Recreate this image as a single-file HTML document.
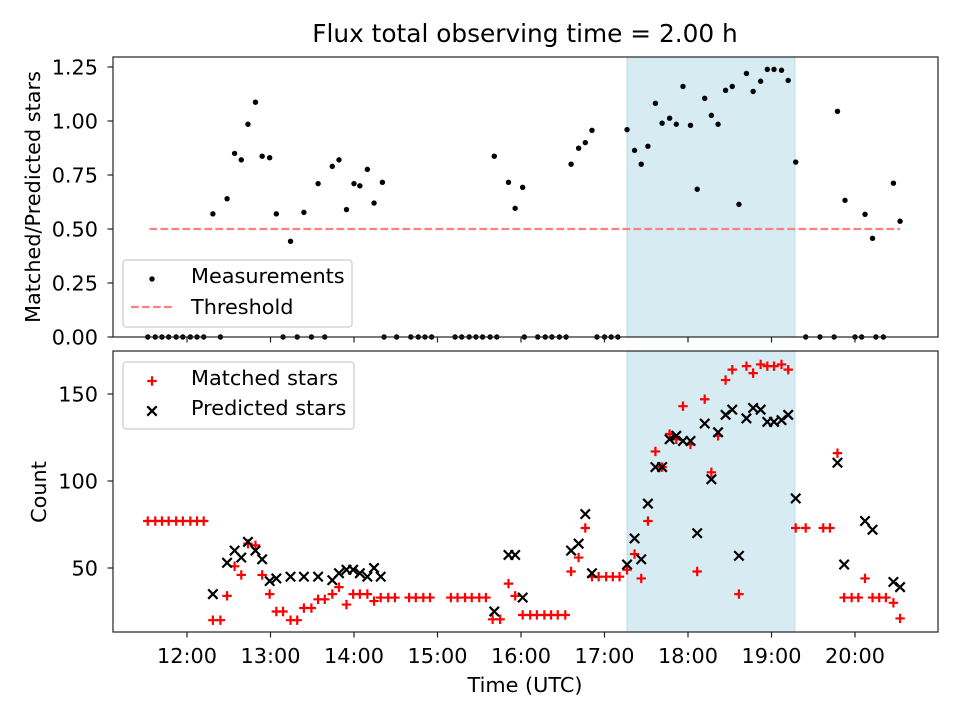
<!DOCTYPE html>
<html><head><meta charset="utf-8"><style>
body{margin:0;background:#fff}
svg{display:block;font-family:"DejaVu Sans","Liberation Sans",sans-serif}
</style></head><body>
<svg id="chart" width="960" height="720" viewBox="0 0 960 720" xmlns="http://www.w3.org/2000/svg">
<text x="525" y="42" font-size="24.8" text-anchor="middle">Flux total observing time = 2.00 h</text>
<g id="topPanel"></g><g id="botPanel"></g>
</svg>
<script>
// ratio measurements (hours UTC, value)
const ratioTimes=[12.31,12.48,12.57,12.65,12.73,12.82,12.90,12.99,13.07,13.24,13.40,13.57,13.74,13.82,13.91,14.0,14.07,14.16,14.24,14.34,15.68,15.85,15.93,16.02,16.60,16.69,16.77,16.85,17.27,17.36,17.44,17.52,17.61,17.69,17.78,17.86,17.94,18.03,18.11,18.20,18.28,18.36,18.45,18.53,18.61,18.70,18.78,18.87,18.95,19.03,19.12,19.20,19.29,19.79,19.88,20.12,20.21,20.46,20.54];
const ratioValues=[0.57,0.64,0.85,0.82,0.985,1.087,0.837,0.83,0.57,0.443,0.577,0.71,0.79,0.82,0.59,0.71,0.70,0.776,0.62,0.716,0.837,0.716,0.596,0.693,0.80,0.874,0.90,0.957,0.96,0.864,0.80,0.883,1.082,0.99,1.013,0.985,1.16,0.98,0.684,1.105,1.026,0.985,1.142,1.16,0.614,1.22,1.137,1.184,1.239,1.239,1.235,1.188,0.81,1.045,0.633,0.568,0.457,0.712,0.536];
const zeroTimes=[11.53,11.62,11.70,11.78,11.87,11.95,12.04,12.12,12.20,12.40,13.15,13.32,13.49,13.65,14.36,14.51,14.68,14.77,14.85,14.93,15.21,15.29,15.38,15.46,15.54,15.63,15.71,16.04,16.20,16.29,16.37,16.46,16.54,16.91,17.00,17.08,17.16,19.41,19.58,19.75,20.0,20.08,20.25,20.34];
const threshold=0.5, thresholdStart=11.55, thresholdEnd=20.54;
const spanStart=17.27, spanEnd=19.28;
// matched stars
const matchedTimes=[11.53,11.62,11.70,11.78,11.87,11.95,12.04,12.12,12.20,12.31,12.40,12.48,12.57,12.65,12.73,12.82,12.90,12.99,13.07,13.15,13.24,13.32,13.40,13.49,13.57,13.65,13.74,13.82,13.91,13.99,14.07,14.16,14.24,14.32,14.41,14.49,14.66,14.74,14.83,14.91,15.16,15.24,15.33,15.41,15.50,15.58,15.66,15.75,15.85,15.93,16.02,16.11,16.19,16.28,16.36,16.44,16.53,16.60,16.69,16.77,16.85,16.93,17.02,17.10,17.18,17.27,17.36,17.44,17.52,17.61,17.69,17.78,17.86,17.94,18.03,18.11,18.20,18.28,18.36,18.45,18.53,18.61,18.70,18.78,18.87,18.95,19.03,19.12,19.20,19.29,19.41,19.62,19.70,19.79,19.87,19.96,20.04,20.12,20.21,20.29,20.37,20.46,20.54];
const matchedValues=[77,77,77,77,77,77,77,77,77,20,20,34,51,46,64,63,46,35,25,25,20,20,27,27,32,32,35,39,29,35,35,35,31,33,33,33,33,33,33,33,33,33,33,33,33,33,20.5,20.5,41,34,23,23,23,23,23,23,23,48,56,73,45,45,45,45,45,49,58,44,77,117,108,127,124,143,121,48,147,105,126,158,164,35,166,162,167,166,166,167,164,73,73,73,73,116,33,33,33,44,33,33,33,30,21];
// predicted stars
const predTimes=[12.31,12.48,12.57,12.65,12.73,12.82,12.90,12.99,13.07,13.24,13.40,13.57,13.74,13.82,13.91,13.99,14.07,14.16,14.24,14.32,15.68,15.85,15.93,16.02,16.60,16.69,16.77,16.85,17.27,17.36,17.44,17.52,17.61,17.69,17.78,17.86,17.94,18.03,18.11,18.20,18.28,18.36,18.45,18.53,18.61,18.70,18.78,18.87,18.95,19.03,19.12,19.20,19.29,19.79,19.87,20.12,20.21,20.46,20.54];
const predValues=[35,53,60,56,65,60,55,42.5,44,45,45,45,43,47,49,49,47,45,50,45,25,57.5,57.5,33,60,64,81,47,52,67,55,87,108,108,124,126,123,123,70,133,101,128,138,141,57,136,142,141,134,134,135,138,90,110.5,52,77,72,42,39];
const yTopTicks=[0,0.25,0.5,0.75,1.0,1.25];
const yBotTicks=[50,100,150];
const xTicks=[12,13,14,15,16,17,18,19,20];
const xTickLabels=["12:00","13:00","14:00","15:00","16:00","17:00","18:00","19:00","20:00"];

const NS="http://www.w3.org/2000/svg";
const L=113,R=938,T1=57,B1=337,T2=351,B2=632;
const FS=20.8;
const x=t=>187+(t-12)*83.5;
const yTop=v=>337-v*216;
const yBot=v=>568-(v-50)*1.74;
function mk(p,tag,at,txt){const e=document.createElementNS(NS,tag);for(const k in at)e.setAttribute(k,at[k]);if(txt!==undefined)e.textContent=txt;p.appendChild(e);return e;}
const gTop=document.getElementById('topPanel'),gBot=document.getElementById('botPanel');

function spanRect(g,t,b){const r=mk(g,'rect',{x:x(spanStart),y:t,width:x(spanEnd)-x(spanStart),height:b-t,fill:'#add8e6','fill-opacity':0.5,stroke:'#add8e6','stroke-opacity':0.8});

}
spanRect(gTop,T1,B1);spanRect(gBot,T2,B2);

const th=mk(gTop,'line',{x1:x(thresholdStart),x2:x(thresholdEnd),y1:yTop(threshold),y2:yTop(threshold),stroke:'#ff8080','stroke-width':2.2,'stroke-dasharray':'7.7,3.3'});


ratioTimes.forEach((t,i)=>{const c=mk(gTop,'circle',{cx:x(t),cy:yTop(ratioValues[i]),r:2.7,fill:'#000'});

});
zeroTimes.forEach(t=>{const c=mk(gTop,'circle',{cx:x(t),cy:yTop(0),r:2.7,fill:'#000'});

});

matchedTimes.forEach((t,i)=>{const cx=x(t),cy=yBot(matchedValues[i]);const p=mk(gBot,'path',{d:`M${cx-4.7},${cy}H${cx+4.7}M${cx},${cy-4.7}V${cy+4.7}`,stroke:'#ff0000','stroke-width':2.2});

});
predTimes.forEach((t,i)=>{const cx=x(t),cy=yBot(predValues[i]);const p=mk(gBot,'path',{d:`M${cx-4.7},${cy-4.7}L${cx+4.7},${cy+4.7}M${cx-4.7},${cy+4.7}L${cx+4.7},${cy-4.7}`,stroke:'#000','stroke-width':2.2});

});

[[T1,B1,gTop],[T2,B2,gBot]].forEach(([t,b,g])=>{const r=mk(g,'rect',{x:L,y:t,width:R-L,height:b-t,fill:'none',stroke:'#222','stroke-width':1.2});


xTicks.forEach(v=>{mk(g,'line',{x1:x(v),x2:x(v),y1:b,y2:b+5.5,stroke:'#222','stroke-width':1.2});});});
xTicks.forEach((v,i)=>{const tx=mk(gBot,'text',{x:x(v),y:663,'font-size':FS,'text-anchor':'middle'},xTickLabels[i]);

});
yTopTicks.forEach(v=>{mk(gTop,'line',{x1:L-5.5,x2:L,y1:yTop(v),y2:yTop(v),stroke:'#222','stroke-width':1.2});
const tx=mk(gTop,'text',{x:L-15,y:yTop(v)+7.5,'font-size':FS,'text-anchor':'end'},v.toFixed(2));

});
yBotTicks.forEach(v=>{mk(gBot,'line',{x1:L-5.5,x2:L,y1:yBot(v),y2:yBot(v),stroke:'#222','stroke-width':1.2});
const tx=mk(gBot,'text',{x:L-15,y:yBot(v)+7.5,'font-size':FS,'text-anchor':'end'},String(v));

});

let a=mk(gTop,'text',{x:0,y:0,'font-size':FS,'text-anchor':'middle',transform:'translate(40,197) rotate(-90)'},'Matched/Predicted stars');


a=mk(gBot,'text',{x:0,y:0,'font-size':FS,'text-anchor':'middle',transform:'translate(46,492) rotate(-90)'},'Count');


a=mk(gBot,'text',{x:525,y:692,'font-size':FS,'text-anchor':'middle'},'Time (UTC)');



let lg=mk(gTop,'g',{});


mk(lg,'rect',{x:123,y:260,width:229,height:67,rx:3,fill:'#fff','fill-opacity':0.8,stroke:'#ccc','stroke-width':1.2});
mk(lg,'circle',{cx:152,cy:279,r:2.7,fill:'#000'});
mk(lg,'text',{x:191,y:283,'font-size':FS},'Measurements');
mk(lg,'line',{x1:131,x2:174,y1:307,y2:307,stroke:'#ff8080','stroke-width':2.2,'stroke-dasharray':'7.7,3.3'});
mk(lg,'text',{x:191,y:314,'font-size':FS},'Threshold');
lg=mk(gBot,'g',{});


mk(lg,'rect',{x:123,y:362,width:231,height:67,rx:3,fill:'#fff','fill-opacity':0.8,stroke:'#ccc','stroke-width':1.2});
mk(lg,'path',{d:'M147.3,381H156.7M152,376.3V385.7',stroke:'#ff0000','stroke-width':2.2});
mk(lg,'text',{x:191,y:385,'font-size':FS},'Matched stars');
mk(lg,'path',{d:'M147.3,406.3L156.7,415.7M147.3,415.7L156.7,406.3',stroke:'#000','stroke-width':2.2});
mk(lg,'text',{x:191,y:415,'font-size':FS},'Predicted stars');
</script>
</body></html>
